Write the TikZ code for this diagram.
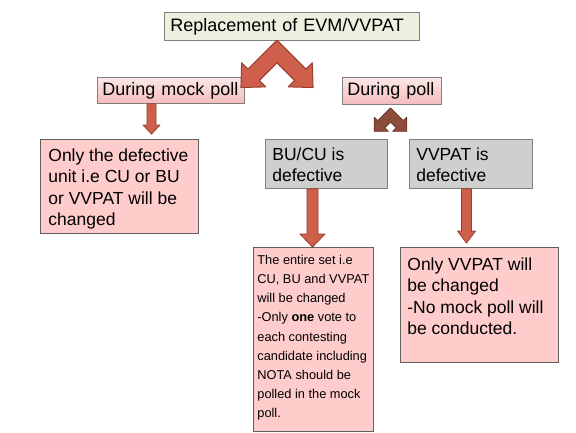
\documentclass[tikz,border=0pt]{standalone}
\usepackage{fontspec}
\setmainfont{Liberation Sans}
\usetikzlibrary{calc}
\definecolor{topfill}{HTML}{EBF1DE}
\definecolor{pinktop}{HTML}{FCE8E8}
\definecolor{pinkbot}{HTML}{F5BCBC}
\definecolor{pinkfill}{HTML}{FFCCCC}
\definecolor{grayfill}{HTML}{D0CECE}
\definecolor{boxline}{HTML}{7F7F7F}
\definecolor{darkline}{HTML}{5F5F5F}
\definecolor{arrfill}{HTML}{CD5F4B}
\definecolor{arrline}{HTML}{9A3E2E}
\definecolor{darkarr}{HTML}{8E4C3C}
\definecolor{darkarrline}{HTML}{6A3428}
% block arrow pointing down: #1 x, #2 start anchor, #3 target anchor, #4 gap above target, #5 shaft half width, #6 head half width, #7 head length
\newcommand\blockarr[7]{%
  \draw[downarrow] let \p1=(#2), \p2=(#3) in
    (#1pt-#5pt,\y1) -- (#1pt+#5pt,\y1) -- (#1pt+#5pt,\y2+#4pt+#7pt) -- (#1pt+#6pt,\y2+#4pt+#7pt)
    -- (#1pt,\y2+#4pt) -- (#1pt-#6pt,\y2+#4pt+#7pt) -- (#1pt-#5pt,\y2+#4pt+#7pt) -- cycle;}
% double chevron arrow: #1 centre, #2 arm half width, #3 arm length, #4 head length, #5 head half width, #6 style
\newcommand\chevronarr[6]{%
  \begin{scope}[shift={(#1)}]
  \draw[#6] (0,{-1.41421*#2}) -- ([rotate=-45]#3,-#2) -- ([rotate=-45]#3,-#5) -- ([rotate=-45]{#3+#4},0)
    -- ([rotate=-45]#3,#5) -- ([rotate=-45]#3,#2) -- (0,{1.41421*#2})
    -- ([rotate=-135]#3,-#2) -- ([rotate=-135]#3,-#5) -- ([rotate=-135]{#3+#4},0)
    -- ([rotate=-135]#3,#5) -- ([rotate=-135]#3,#2) -- cycle;
  \end{scope}}
\tikzset{
  base/.style={draw=boxline, line width=0.8pt, anchor=north west, font=\fontsize{17.5}{21.5}\selectfont},
  hdrgreen/.style={base, fill=topfill, font=\fontsize{18}{21.5}\selectfont, align=left, inner ysep=2pt},
  hdrpink/.style={base, top color=pinktop, bottom color=pinkbot, font=\fontsize{18}{21.5}\selectfont, align=left, inner ysep=2pt},
  pinkbox/.style={base, fill=pinkfill, draw=darkline},
  graybox/.style={base, fill=grayfill},
  downarrow/.style={fill=arrfill, draw=arrline, line width=0.8pt, line join=round},
  bigchev/.style={fill=arrfill, draw=arrline, line width=1pt, line join=round},
  smallchev/.style={fill=darkarr, draw=darkarrline, line width=0.8pt, line join=round}
}
\begin{document}
\begin{tikzpicture}[x=1pt,y=-1pt]
\useasboundingbox[fill=white] (0,0) rectangle (576,432);

\node[hdrgreen, text width=243pt, inner xsep=6pt, minimum height=28pt] (top) at (164,12) {Replacement of EVM/VVPAT};
\node[hdrpink, text width=137pt, inner xsep=5pt, minimum height=26pt] (mock) at (97,77) {During mock poll};
\node[hdrpink, text width=89pt, inner xsep=5pt, minimum height=27pt] (poll) at (342,77) {During poll};

\node[pinkbox, inner xsep=8pt, inner ysep=9pt] (def) at (40,139)
  {\parbox[t][76pt][t]{142pt}{\raggedright Only the defective\\ unit i.e CU or BU\\ or VVPAT will be\\ changed}};
\node[graybox, inner xsep=7pt, inner ysep=8pt] (bucu) at (265,139)
  {\parbox[t][33pt][t]{108pt}{\raggedright BU/CU is\\ defective}};
\node[graybox, inner xsep=7pt, inner ysep=8pt] (vvp) at (409,139)
  {\parbox[t][33pt][t]{109pt}{\raggedright VVPAT is\\ defective}};
\node[pinkbox, inner xsep=4pt, inner ysep=8pt, font=\fontsize{12.8}{19.1}\selectfont] (entire) at (253,247)
  {\parbox[t][168pt][t]{112pt}{\raggedright The entire set i.e\\ CU, BU and VVPAT\\ will be changed\\ -Only \textbf{one} vote to\\ each contesting\\ candidate including\\ NOTA should be\\ polled in the mock\\ poll.}};
\node[pinkbox, inner xsep=7pt, inner ysep=10pt] (vvres) at (400,247)
  {\parbox[t][95pt][t]{144pt}{\raggedright Only VVPAT will\\ be changed\\ -No mock poll will\\ be conducted.}};

\blockarr{151.5}{mock.south}{def.north}{5}{4.5}{8.5}{9}
\blockarr{312.5}{bucu.south}{entire.north}{0}{5.5}{12.5}{13}
\blockarr{466.5}{vvp.south}{vvres.north}{4}{5}{9}{12}

\coordinate (bigc) at (277,51.5);
\coordinate (smallc) at (390.5,115);
\chevronarr{bigc}{8}{33}{18}{17}{bigchev}
\chevronarr{smallc}{5}{13}{10}{10}{smallchev}
\end{tikzpicture}
\end{document}
